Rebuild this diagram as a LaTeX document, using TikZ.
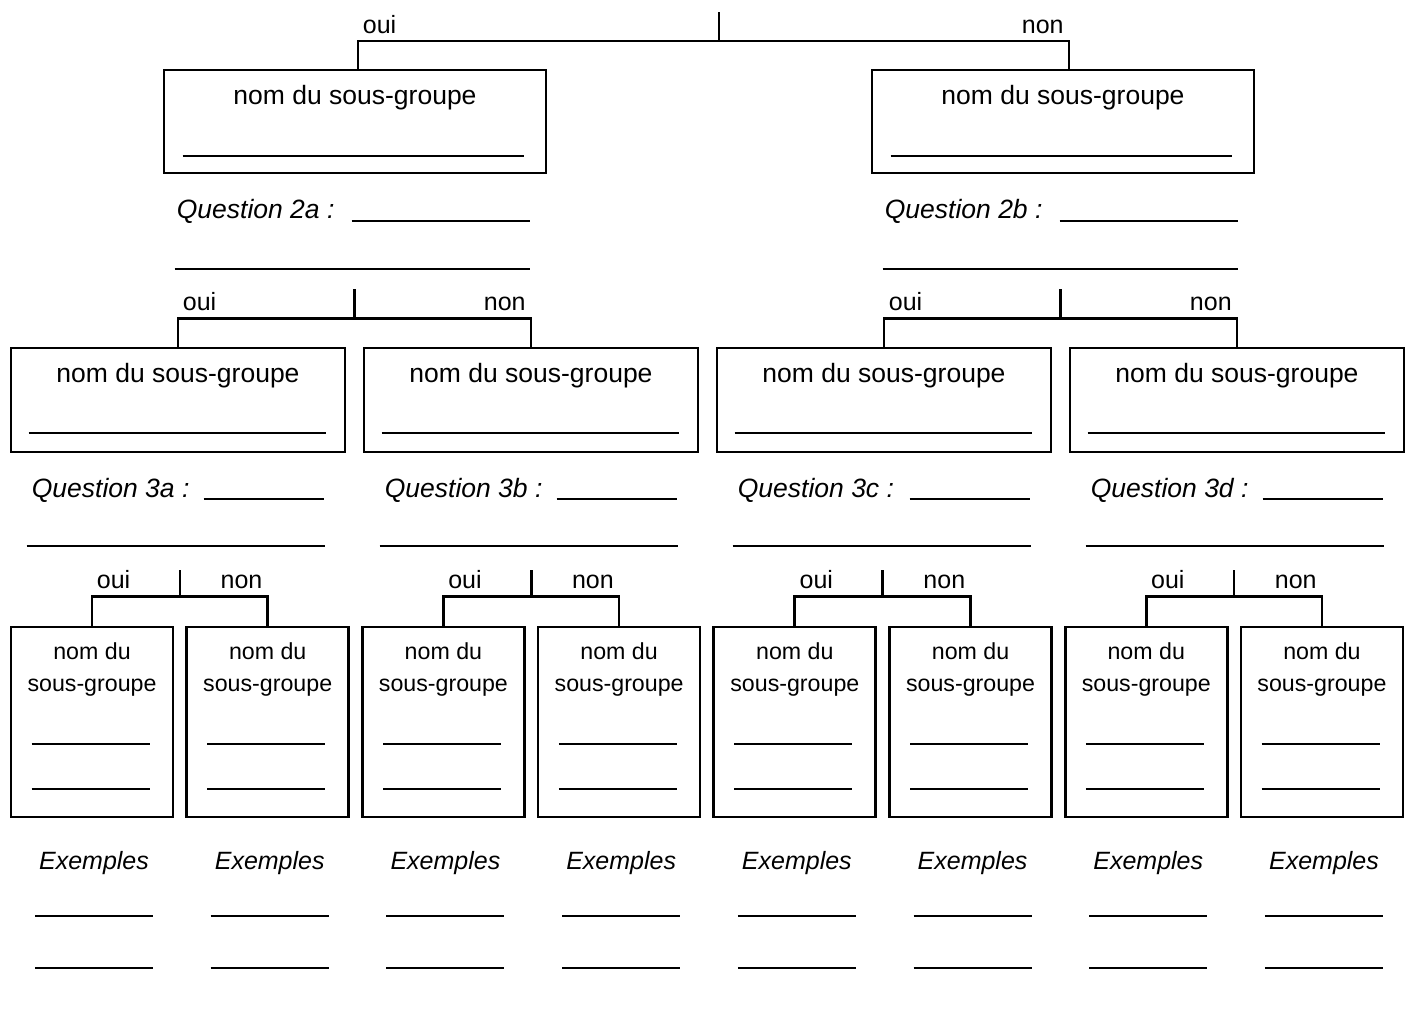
\documentclass[tikz,border=0pt]{standalone}
\usepackage{fontspec}
\setmainfont{Liberation Sans}
\usetikzlibrary{positioning,calc}

\tikzset{
  conn/.style={line width=2.7pt},
  blank/.style={line width=1.8pt},
  bigbox/.style={draw,line width=2.7pt,inner sep=0pt,minimum width=382,minimum height=103},
  midbox/.style={draw,line width=2.7pt,inner sep=0pt,minimum width=334,minimum height=104},
  smallbox/.style={draw,line width=2.7pt,inner sep=0pt,minimum width=162,minimum height=190},
  big/.style={font=\fontsize{26.5}{30}\selectfont,inner sep=0pt},
  small/.style={font=\fontsize{25}{29}\selectfont,inner sep=0pt},
  narrow/.style={font=\fontsize{23.2}{28}\selectfont,inner sep=0pt},
  quest/.style={font=\fontsize{26.5}{30}\selectfont\itshape,inner sep=0pt,anchor=base west},
  ex/.style={font=\fontsize{25}{29}\selectfont\itshape,inner sep=0pt,anchor=base},
  oui/.style={small,anchor=base west,xshift=3.5pt,yshift=8pt},
  non/.style={small,anchor=base east,xshift=-4pt,yshift=8pt}
}

\begin{document}
\begin{tikzpicture}[x=1pt,y=-1pt]
  \useasboundingbox (0,0) rectangle (1406,1015);
  % first split
  \node[bigbox] (g1) at (355,121.5) {};
  \node[bigbox] (g2) at (1063,121.5) {};
  \coordinate (root) at (719,41);
  \draw[conn] (root) -- ++(0,-29);
  \draw[conn] ([xshift=3pt]g1.north) |- node[pos=0.5,oui]{oui} (root)
    -| node[pos=0.5,non]{non} ([xshift=6pt]g2.north);
  \foreach \b/\q in {g1/2a,g2/2b} {
    \node[big,anchor=base] at ([yshift=-36pt]\b.north) {nom du sous-groupe};
    \draw[blank] ([xshift=20pt,yshift=18pt]\b.south west) -- ++(341,0);
    \node[quest] at ([xshift=14pt,yshift=-44pt]\b.south west) {Question \q\ :};
    \draw[blank] ([xshift=189pt,yshift=-47pt]\b.south west) -- ++(178,0);
    \draw[blank] ([xshift=12pt,yshift=-95pt]\b.south west) -- ++(355,0);
  }
  % second split
  \foreach \i/\n in {0/a,1/b,2/c,3/d} {
    \node[midbox] (m\n) at (178+353*\i,400) {};
    \node[big,anchor=base] at ([yshift=-36pt]m\n.north) {nom du sous-groupe};
    \draw[blank] ([xshift=19pt,yshift=20pt]m\n.south west) -- ++(297,0);
    \node[quest] at ([xshift=22pt,yshift=-44pt]m\n.south west) {Question 3\n\ :};
    \draw[blank] ([xshift=194pt,yshift=-46pt]m\n.south west) -- ++(120,0);
    \draw[blank] ([xshift=17pt,yshift=-93pt]m\n.south west) -- ++(298,0);
  }
  \foreach \a/\b in {ma/mb,mc/md} {
    \coordinate (j) at ($(\a.north)!0.5!(\b.north)+(0,-28)$);
    \draw[conn] (j) -- ++(0,-30);
    \draw[conn] (\a.north) |- node[pos=0.5,oui]{oui} (j) -| node[pos=0.5,non]{non} (\b.north);
  }
  % third split
  \foreach \i in {1,...,8} {
    \node[smallbox] (s\i) at (92+175.71*\i-175.71,722) {};
    \node[narrow,anchor=base] at ([yshift=-34pt]s\i.north) {nom du};
    \node[narrow,anchor=base] at ([yshift=-66pt]s\i.north) {sous-groupe};
    \draw[blank] ([xshift=22pt,yshift=-118pt]s\i.north west) -- ++(118,0);
    \draw[blank] ([xshift=22pt,yshift=-163pt]s\i.north west) -- ++(118,0);
    \node[ex] at ([xshift=2pt,yshift=-51pt]s\i.south) {Exemples};
    \draw[blank] ([xshift=-57pt,yshift=-98pt]s\i.south) -- ++(118,0);
    \draw[blank] ([xshift=-57pt,yshift=-150pt]s\i.south) -- ++(118,0);
  }
  \foreach \a/\b in {1/2,3/4,5/6,7/8} {
    \coordinate (j) at ($(s\a.north)!0.5!(s\b.north)+(0,-29)$);
    \draw[conn] (j) -- ++(0,-27);
    \draw[conn] (s\a.north) |- node[pos=0.5,oui]{oui} (j) -| node[pos=0.5,non]{non} (s\b.north);
  }
\end{tikzpicture}
\end{document}
